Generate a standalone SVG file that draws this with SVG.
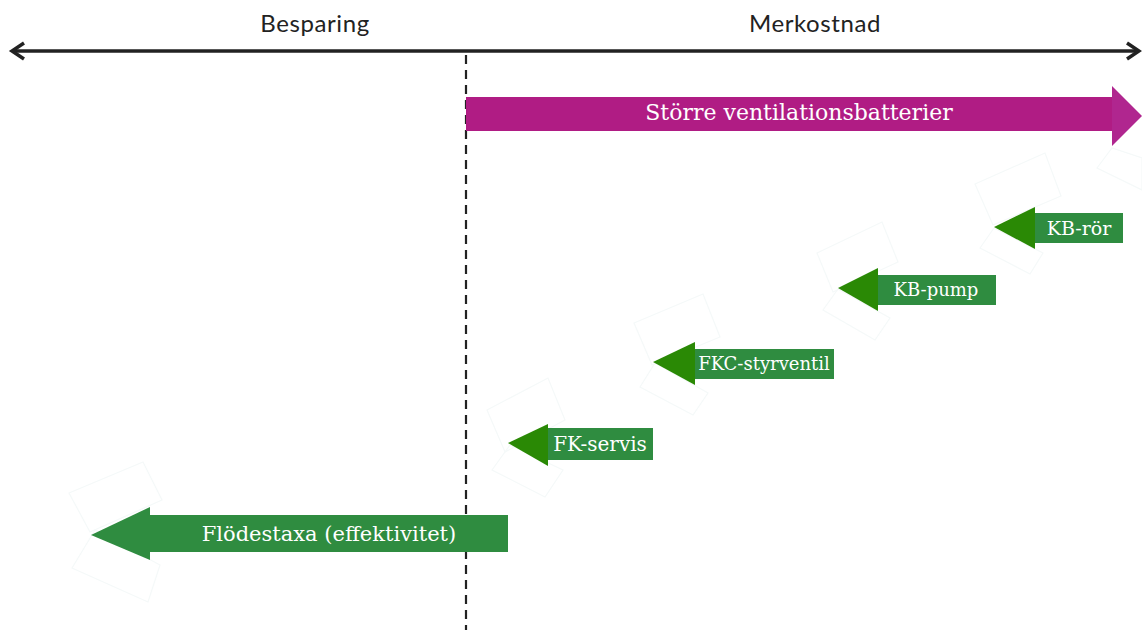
<svg xmlns="http://www.w3.org/2000/svg" width="1142" height="630" viewBox="0 0 1142 630">
<style>
.hdr{font-family:Lato,"Liberation Sans",sans-serif;font-size:24px;fill:#222;text-anchor:middle;letter-spacing:0.6px}
.lbl{font-family:"DejaVu Serif","Liberation Serif",serif;fill:#fff;text-anchor:middle}
.bar{fill:#2f8c40}
.head{fill:#2a8905}
.deco{fill:none;stroke:#f5f9f9;stroke-width:1.2}
.axis{fill:none;stroke:#222;stroke-width:3.5}
</style>
<rect width="1142" height="630" fill="#fff"/>
<g id="decorations">
<polygon class="deco" points="69,493 143,462 162,500 90,532"/>
<polygon class="deco" points="72,568 95,530 160,565 148,602"/>
<polygon class="deco" points="487,410 548,378 565,420 505,452"/>
<polygon class="deco" points="492,470 510,445 563,470 545,497"/>
<polygon class="deco" points="634,323 703,294 720,337 652,365"/>
<polygon class="deco" points="640,387 655,363 708,393 693,415"/>
<polygon class="deco" points="817,253 882,222 898,262 833,292"/>
<polygon class="deco" points="823,310 838,289 890,318 875,340"/>
<polygon class="deco" points="975,184 1045,153 1061,196 993,225"/>
<polygon class="deco" points="980,248 994,228 1043,253 1030,274"/>
<polygon class="deco" points="1097,168 1112,148 1142,158 1142,190"/>
</g>
<g id="connectors">
<line class="axis" x1="12" y1="51" x2="1139" y2="51"/>
<path class="axis" d="M24,43 L12,51 L24,59" stroke-linejoin="miter"/>
<path class="axis" d="M1127,43 L1139,51 L1127,59" stroke-linejoin="miter"/>
<line x1="466" y1="55" x2="466" y2="630" stroke="#222" stroke-width="2.2" stroke-dasharray="9,6"/>
</g>
<g id="header-besparing"><text class="hdr" x="315" y="32">Besparing</text></g>
<g id="header-merkostnad"><text class="hdr" x="815" y="32">Merkostnad</text></g>
<g id="storre-ventilationsbatterier">
<rect x="466" y="97" width="646" height="34" fill="#b01c84"/>
<polygon points="1112,86 1142,116 1112,146" fill="#b0268f"/>
<text class="lbl" x="799" y="120" font-size="22">Större ventilationsbatterier</text>
</g>
<g id="kb-ror">
<rect class="bar" x="1035" y="213" width="88" height="30"/>
<polygon class="head" points="1035,207 994,227 1035,249"/>
<text class="lbl" x="1079" y="235" font-size="19">KB-rör</text>
</g>
<g id="kb-pump">
<rect class="bar" x="878" y="275" width="118" height="30"/>
<polygon class="head" points="878,268 838,288 878,311"/>
<text class="lbl" x="936" y="296" font-size="18">KB-pump</text>
</g>
<g id="fkc-styrventil">
<rect class="bar" x="695" y="349" width="139" height="30"/>
<polygon class="head" points="695,342 653,362 695,385"/>
<text class="lbl" x="764" y="370" font-size="18">FKC-styrventil</text>
</g>
<g id="fk-servis">
<rect class="bar" x="548" y="428" width="105" height="32"/>
<polygon class="head" points="548,424 508,443 548,466"/>
<text class="lbl" x="600" y="451" font-size="20">FK-servis</text>
</g>
<g id="flodestaxa">
<rect class="bar" x="150" y="515" width="358" height="37"/>
<polygon class="bar" points="150,507 91,535 150,560"/>
<text class="lbl" x="329" y="541" font-size="21">Flödestaxa (effektivitet)</text>
</g>
</svg>
